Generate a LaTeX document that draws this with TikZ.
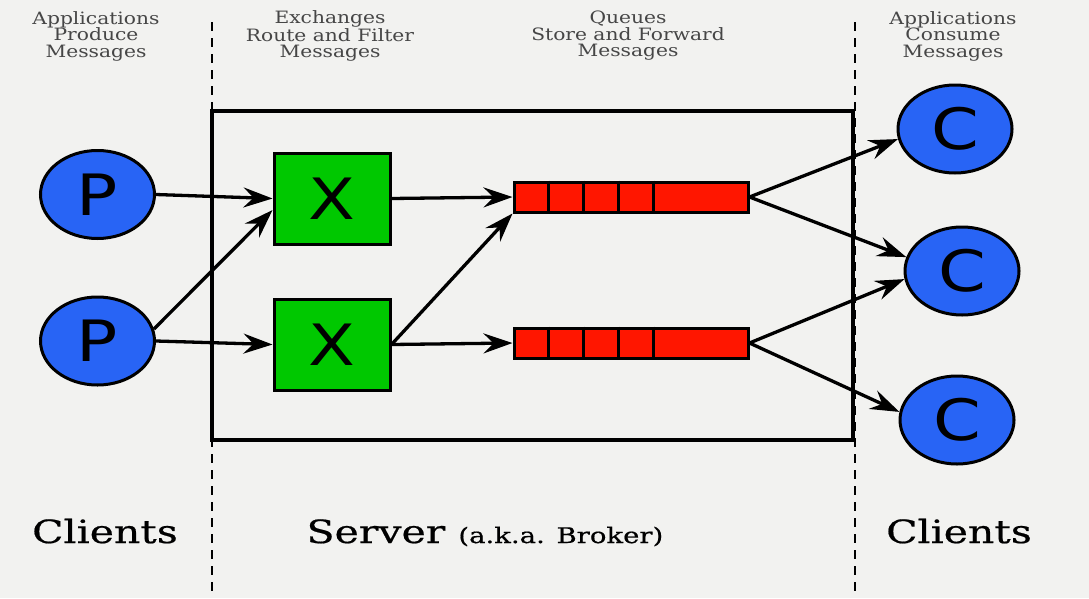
\documentclass[tikz,border=0pt]{standalone}
\usepackage{fontspec}
\setmainfont{DejaVu Serif}
\newfontfamily\letterfont[FakeStretch=1.2]{DejaVu Sans}
\newfontfamily\topfont[FakeStretch=1.19]{DejaVu Serif}
\newfontfamily\botfont[FakeStretch=1.28,FakeBold=0.6]{DejaVu Serif}
\usetikzlibrary{shapes.geometric,arrows.meta,calc}
\definecolor{bg}{RGB}{242,242,240}
\definecolor{pblue}{RGB}{40,100,245}
\definecolor{xgreen}{RGB}{0,200,0}
\definecolor{qred}{RGB}{255,22,0}
\definecolor{lbl}{RGB}{70,70,70}
\tikzset{
  client/.style={ellipse,draw=black,line width=3pt,fill=pblue,minimum width=114pt,minimum height=88pt,inner sep=0pt,font=\letterfont\fontsize{57}{57}\selectfont},
  exch/.style={rectangle,draw=black,line width=3pt,fill=xgreen,minimum width=116pt,minimum height=91pt,inner sep=0pt,font=\letterfont\fontsize{57}{57}\selectfont},
  queue/.style={rectangle,draw=black,line width=3pt,fill=qred,minimum width=234pt,minimum height=30pt,inner sep=0pt},
  flow/.style={line width=3.3pt,-{Stealth[length=29pt,width=20pt,inset=10pt]}},
  toplbl/.style={align=center,text=lbl,font=\topfont\fontsize{17}{16.5}\selectfont},
  botlbl/.style={text=black,font=\botfont\fontsize{32}{32}\selectfont,anchor=base},
  divider/.style={line width=2pt,dash pattern=on 9pt off 7pt}
}
\begin{document}
\begin{tikzpicture}[x=1pt,y=-1pt]
\fill[bg] (0,0) rectangle (1089,598);
\useasboundingbox (0,0) rectangle (1089,598);
% dividers
\coordinate (d1t) at (212,22); \coordinate (d1b) at (212,598);
\coordinate (d2t) at (855,22); \coordinate (d2b) at (855,598);
\draw[divider] (d1t) -- (d1b);
\draw[divider] (d2t) -- (d2b);
% server box
\node[draw=black,line width=3.2pt,fill=bg,minimum width=641pt,minimum height=329pt,inner sep=0pt] (srv) at (532.5,275.5) {};
% top labels
\node[toplbl] (t1) at (96,36) {Applications\\Produce\\Messages};
\node[toplbl] (t2) at (330,36) {Exchanges\\Route and Filter\\Messages};
\node[toplbl] (t3) at (628,36) {Queues\\Store and Forward\\Messages};
\node[toplbl] (t4) at (953,36) {Applications\\Consume\\Messages};
% producers
\node[client] (p1) at (97.5,194.5) {P};
\node[client] (p2) at (97.5,341) {P};
% exchanges
\node[exch] (x1) at (332,198.5) {X};
\node[exch] (x2) at (332,344.5) {X};
% queues
\node[queue] (q1) at (631,197) {};
\node[queue] (q2) at (631,343) {};
\foreach \q in {q1,q2}{
  \foreach \dx in {36,71,106,141}{
    \draw[line width=3pt] ($(\q.north west)+(\dx,0)$) -- ($(\q.south west)+(\dx,0)$);
  }
}
% consumers
\node[client] (c1) at (955,129) {C};
\node[client] (c2) at (962,271) {C};
\node[client] (c3) at (957,420) {C};
% connectors
\draw[flow] (p1.east) -- (x1.west);
\draw[flow] (p2.12) -- (x1.191);
\draw[flow] (p2.east) -- (x2.west);
\draw[flow] (x1.east) -- (q1.west);
\draw[flow] (x2.east) -- (q1.south west);
\draw[flow] (x2.east) -- (q2.west);
\draw[flow] (q1.east) -- (c1.190);
\draw[flow] (q1.east) -- (c2.166);
\draw[flow] (q2.east) -- (c2.188);
\draw[flow] (q2.east) -- (c3.172);
% bottom labels
\node[botlbl] (b1) at (105,543) {Clients};
\node[botlbl,anchor=base west] (b2) at (303,543) {Server {\fontsize{21.5}{21.5}\selectfont (a.k.a. Broker)}};
\node[botlbl] (b3) at (959,543) {Clients};
\end{tikzpicture}
\end{document}
